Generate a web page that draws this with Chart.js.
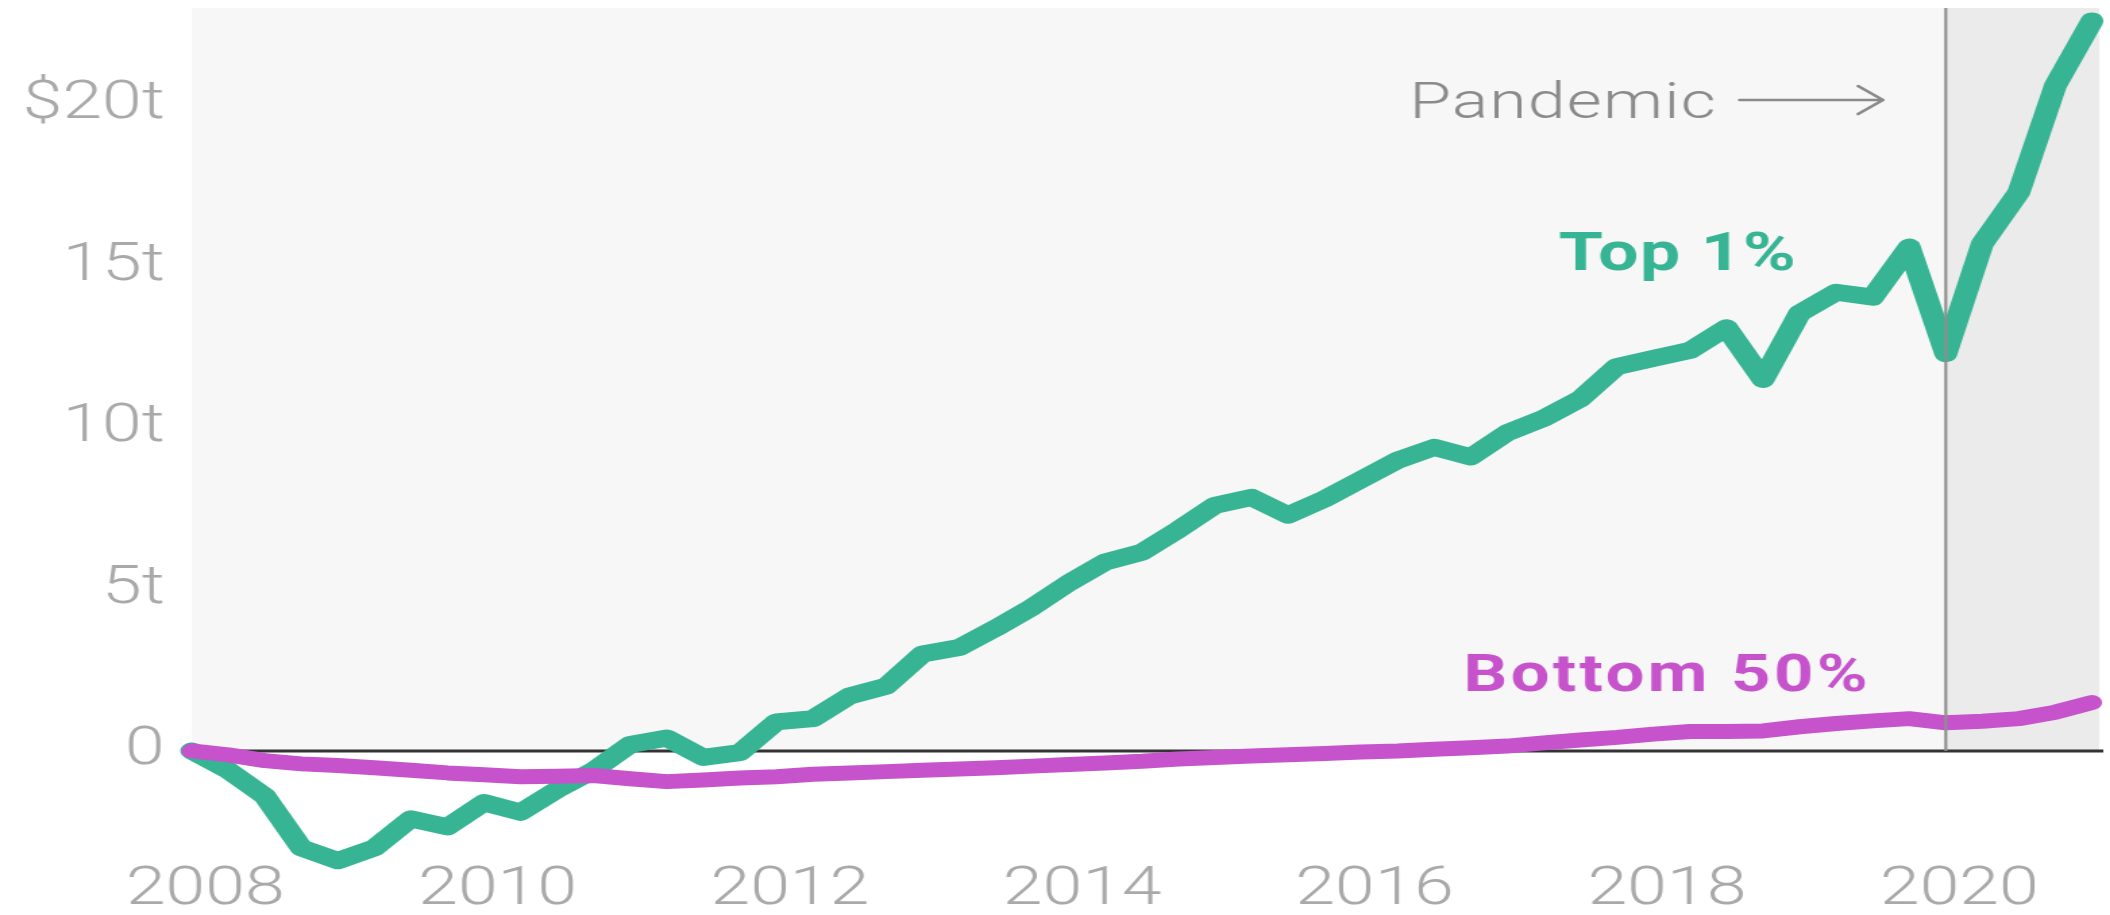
<!DOCTYPE html>
<html>
<head>
<meta charset="utf-8">
<script src="https://cdn.jsdelivr.net/npm/chart.js@4.4.1/dist/chart.umd.min.js"></script>
<style>
  html, body { margin: 0; padding: 0; background: #fff; overflow: hidden; }
  /* la imagen original viene estirada en horizontal: se dibuja mas estrecha y se estira */
  #contenedor { width: 1563px; height: 915px; transform: scaleX(1.35); transform-origin: 0 0; }
  #grafica { display: block; }
</style>
</head>
<body>
<div id="contenedor">
  <canvas id="grafica" width="1563" height="915"></canvas>
</div>
<script>
// Trimestres (año decimal), de 2008 T1 a 2021 T1
const trimestres = [
  2008, 2008.25, 2008.5, 2008.75, 2009, 2009.25, 2009.5, 2009.75,
  2010, 2010.25, 2010.5, 2010.75, 2011, 2011.25, 2011.5, 2011.75,
  2012, 2012.25, 2012.5, 2012.75, 2013, 2013.25, 2013.5, 2013.75,
  2014, 2014.25, 2014.5, 2014.75, 2015, 2015.25, 2015.5, 2015.75,
  2016, 2016.25, 2016.5, 2016.75, 2017, 2017.25, 2017.5, 2017.75,
  2018, 2018.25, 2018.5, 2018.75, 2019, 2019.25, 2019.5, 2019.75,
  2020, 2020.25, 2020.5, 2020.75, 2021
];

// Cambio de riqueza desde 2008, en billones (t) de dolares
const top1 = [
  0, -0.6, -1.4, -3.0, -3.4, -3.0, -2.1, -2.35, -1.6, -1.9,
  -1.2, -0.6, 0.2, 0.4, -0.2, -0.05, 0.9, 1.0, 1.7, 2.0,
  3.0, 3.2, 3.8, 4.45, 5.2, 5.85, 6.15, 6.85, 7.6, 7.85,
  7.3, 7.8, 8.4, 9.0, 9.4, 9.1, 9.85, 10.3, 10.9, 11.9,
  12.15, 12.4, 13.1, 11.5, 13.55, 14.2, 14.05, 15.6, 12.3, 15.7,
  17.3, 20.6, 22.6
];
const bottom50 = [
  0, -0.12, -0.3, -0.4, -0.45, -0.52, -0.6, -0.68, -0.74, -0.8,
  -0.78, -0.76, -0.86, -0.95, -0.9, -0.84, -0.8, -0.72, -0.68, -0.64,
  -0.6, -0.56, -0.52, -0.47, -0.42, -0.37, -0.32, -0.25, -0.2, -0.16,
  -0.12, -0.08, -0.03, 0.0, 0.05, 0.1, 0.15, 0.25, 0.34, 0.42,
  0.52, 0.6, 0.6, 0.62, 0.75, 0.85, 0.93, 1.0, 0.87, 0.92,
  1.0, 1.2, 1.5
];

// Marcas de los ejes
const aniosEje = [2008, 2010, 2012, 2014, 2016, 2018, 2020];
const valoresEje = [0, 5, 10, 15, 20];
const inicioPandemia = 2020;

const verde = '#37b493';
const morado = '#c653cb';
const grisTexto = '#a9a9a9';

const etiquetaY = (v) => (v === 0 ? '0' : v === 20 ? '$20t' : `${v}t`);

// Fondo gris, zona de la pandemia, linea del cero y anotaciones
const fondoPlugin = {
  id: 'fondo',
  beforeDatasetsDraw(chart) {
    const { ctx, chartArea: area, scales: { x, y } } = chart;
    const cero = y.getPixelForValue(0);
    const xPandemia = x.getPixelForValue(inicioPandemia);
    ctx.save();
    ctx.fillStyle = '#f7f7f7';
    ctx.fillRect(area.left, area.top, area.right - area.left, cero - area.top);
    ctx.fillStyle = '#ebebeb';
    ctx.fillRect(xPandemia, area.top, area.right - xPandemia, cero - area.top);
    ctx.strokeStyle = '#333';
    ctx.lineWidth = 3;
    ctx.beginPath();
    ctx.moveTo(area.left, cero);
    ctx.lineTo(area.right + 3, cero);
    ctx.stroke();
    ctx.restore();
  },
  afterDatasetsDraw(chart) {
    const { ctx, chartArea: area, scales: { x, y } } = chart;
    const cero = y.getPixelForValue(0);
    const xPandemia = x.getPixelForValue(inicioPandemia);
    ctx.save();
    // linea vertical de la pandemia, encima de las series
    ctx.strokeStyle = '#8f8f8f';
    ctx.lineWidth = 2.2;
    ctx.beginPath();
    ctx.moveTo(xPandemia, area.top);
    ctx.lineTo(xPandemia, cero);
    ctx.stroke();

    // textos
    ctx.textBaseline = 'alphabetic';
    ctx.textAlign = 'left';
    ctx.fillStyle = '#8a8a8a';
    ctx.font = '300 50px Roboto';
    ctx.letterSpacing = '1px';
    ctx.fillText('Pandemic', x.getPixelForValue(2016.33), y.getPixelForValue(19.6));

    ctx.fillStyle = verde;
    ctx.font = 'bold 53px Roboto';
    ctx.letterSpacing = '1px';
    ctx.fillText('Top 1%', x.getPixelForValue(2017.35), y.getPixelForValue(14.89));

    ctx.fillStyle = morado;
    ctx.font = 'bold 51px Roboto';
    ctx.letterSpacing = '2.5px';
    ctx.fillText('Bottom 50%', x.getPixelForValue(2016.7), y.getPixelForValue(1.85));

    // flecha
    const yFlecha = y.getPixelForValue(20.15);
    const x1 = x.getPixelForValue(2018.59);
    const x2 = x.getPixelForValue(2019.57);
    const xPunta = x.getPixelForValue(2019.40);
    ctx.strokeStyle = '#8a8a8a';
    ctx.lineWidth = 2.6;
    ctx.lineCap = 'round';
    ctx.lineJoin = 'round';
    ctx.beginPath();
    ctx.moveTo(x1, yFlecha);
    ctx.lineTo(x2, yFlecha);
    ctx.moveTo(xPunta, yFlecha - 14);
    ctx.lineTo(x2, yFlecha);
    ctx.lineTo(xPunta, yFlecha + 14);
    ctx.stroke();
    ctx.restore();
  }
};

const fuenteEje = { family: 'Roboto', size: 53, weight: 300, lineHeight: 1 };

new Chart(document.getElementById('grafica'), {
  type: 'line',
  data: {
    datasets: [
      {
        label: 'Bottom 50%',
        data: trimestres.map((t, i) => ({ x: t, y: bottom50[i] })),
        borderColor: morado,
        borderWidth: 15,
      },
      {
        label: 'Top 1%',
        data: trimestres.map((t, i) => ({ x: t, y: top1[i] })),
        borderColor: verde,
        borderWidth: 17,
      },
    ],
  },
  options: {
    responsive: false,
    animation: false,
    devicePixelRatio: 1,
    layout: { padding: { top: 8, right: 8, left: 0, bottom: 0 } },
    elements: {
      point: { radius: 0 },
      line: { tension: 0, borderCapStyle: 'round', borderJoinStyle: 'round', fill: false },
    },
    datasets: { line: { clip: false } },
    plugins: { legend: { display: false }, tooltip: { enabled: false } },
    scales: {
      x: {
        type: 'linear',
        min: 2008,
        max: 2021.05,
        grid: { display: false, drawTicks: false },
        border: { display: false },
        afterBuildTicks: (escala) => { escala.ticks = aniosEje.map((v) => ({ value: v })); },
        afterFit: (escala) => {
          escala.height = 51;
          escala.paddingLeft = 0;
          escala.paddingRight = 0;
        },
        ticks: {
          autoSkip: false,
          maxRotation: 0,
          padding: 0,
          labelOffset: 10,
          color: grisTexto,
          font: fuenteEje,
          callback: (v) => String(v),
        },
      },
      y: {
        min: -3.5,
        max: 23,
        grid: { display: false, drawTicks: false },
        border: { display: false },
        afterBuildTicks: (escala) => { escala.ticks = valoresEje.map((v) => ({ value: v })); },
        afterFit: (escala) => {
          escala.width = 142;
          escala.paddingTop = 0;
          escala.paddingBottom = 0;
        },
        ticks: {
          padding: 20,
          color: grisTexto,
          font: fuenteEje,
          callback: etiquetaY,
        },
      },
    },
  },
  plugins: [fondoPlugin],
});
</script>
</body>
</html>
